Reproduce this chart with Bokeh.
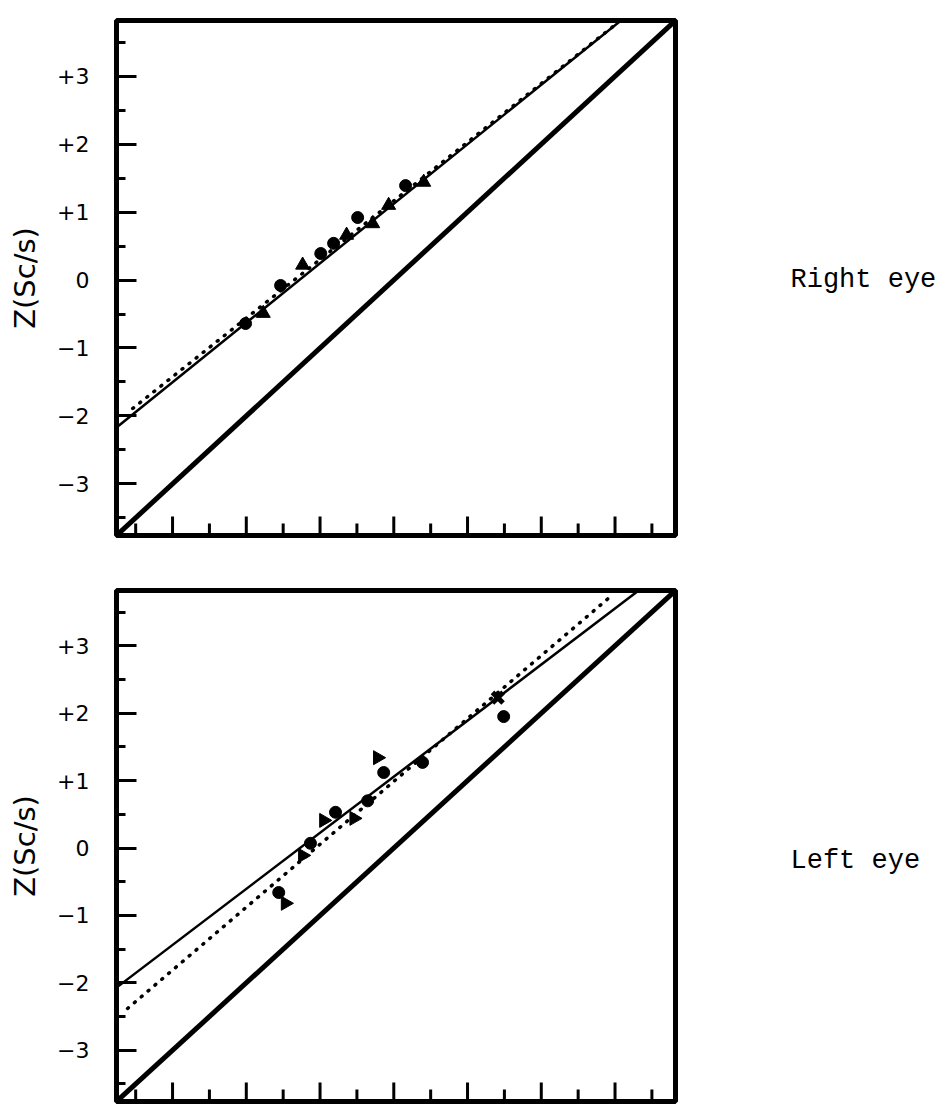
import math
from bokeh.plotting import figure
from bokeh.layouts import column, row
from bokeh.models import FixedTicker, Range1d
from bokeh.embed import file_html
from bokeh.resources import INLINE
from bokeh.core.properties import value

# ---- axes / ticks ----
axis_lo, axis_hi = -3.76, 3.82
y_major = [-3, -2, -1, 0, 1, 2, 3]
y_minor = [-3.5, -2.5, -1.5, -0.5, 0.5, 1.5, 2.5, 3.5]
y_tick_labels = ["\u22123", "\u22122", "\u22121", "0", "+1", "+2", "+3"]
x_major = [-3, -2, -1, 0, 1, 2, 3]
x_minor = [-3.5, -2.5, -1.5, -0.5, 0.5, 1.5, 2.5, 3.5]
y_label = "Z(Sc/s)"
panel_names = ["Right eye", "Left eye"]

# identity line (both panels)
ident_x = [axis_lo, axis_hi]
ident_y = [axis_lo, axis_hi]

# ---- Right eye ----
re_circle_x = [-2.01, -1.535, -0.99, -0.816, -0.49, 0.16]
re_circle_y = [-0.64, -0.08, 0.39, 0.54, 0.92, 1.39]
re_tri_x = [-1.77, -1.236, -0.64, -0.286, -0.07, 0.406]
re_tri_y = [-0.49, 0.22, 0.66, 0.83, 1.10, 1.44]
re_solid_x = [-3.76, 3.08]
re_solid_y = [-2.17, 3.82]
re_dot_x = [-3.54, 3.04]
re_dot_y = [-1.89, 3.79]

# ---- Left eye ----
le_circle_x = [-1.56, -1.13, -0.79, -0.354, -0.137, 0.39, 1.49]
le_circle_y = [-0.66, 0.07, 0.53, 0.70, 1.12, 1.27, 1.95]
le_tri_x = [-1.47, -1.236, -0.95, -0.54, -0.22]
le_tri_y = [-0.82, -0.11, 0.41, 0.44, 1.34]
le_cross_x = [1.41]
le_cross_y = [2.23]
le_solid_x = [-3.76, 3.32]
le_solid_y = [-2.07, 3.82]
le_dot_x = [-3.61, 2.97]
le_dot_y = [-2.38, 3.76]

FONT = "DejaVu Sans"
MONO = "Liberation Mono"


def make_panel(frame_h, top_border, bottom_border, solid_x, solid_y, dot_x, dot_y,
               circ_x, circ_y, tri_x, tri_y, tri_angle):
    p = figure(width=680, height=top_border + frame_h + bottom_border,
               x_range=Range1d(axis_lo, axis_hi), y_range=Range1d(axis_lo, axis_hi),
               output_backend="svg", toolbar_location=None,
               min_border_left=116, min_border_right=5,
               min_border_top=top_border, min_border_bottom=bottom_border)
    p.grid.visible = False
    p.background_fill_color = "white"
    p.border_fill_color = "white"
    p.outline_line_color = "black"
    p.outline_line_width = 5
    p.outline_line_alpha = 1.0

    # y axis
    ya = p.yaxis[0]
    ya.ticker = FixedTicker(ticks=y_major, minor_ticks=y_minor)
    ya.major_label_overrides = {t: l for t, l in zip(y_major, y_tick_labels)}
    ya.axis_line_color = None
    ya.major_tick_in = 20
    ya.major_tick_out = 0
    ya.minor_tick_in = 9
    ya.minor_tick_out = 0
    ya.major_tick_line_width = 3
    ya.minor_tick_line_width = 3
    ya.major_tick_line_color = "black"
    ya.minor_tick_line_color = "black"
    ya.major_label_standoff = 27
    ya.major_label_text_font = FONT
    ya.major_label_text_font_size = "22px"
    ya.major_label_text_color = "black"
    ya.axis_label = y_label
    ya.axis_label_text_font = FONT
    ya.axis_label_text_font_size = "29px"
    ya.axis_label_text_font_style = "normal"
    ya.axis_label_text_color = "black"
    ya.axis_label_standoff = 12

    # x axis: unlabeled, inward ticks drawn on the bottom edge
    p.xaxis.visible = False
    unit_px = frame_h / (axis_hi - axis_lo)
    major_len = 19.0 / unit_px
    minor_len = 12.0 / unit_px
    p.segment(x0=x_major, y0=[axis_lo] * len(x_major), x1=x_major,
              y1=[axis_lo + major_len] * len(x_major),
              line_color="black", line_width=3)
    p.segment(x0=x_minor, y0=[axis_lo] * len(x_minor), x1=x_minor,
              y1=[axis_lo + minor_len] * len(x_minor),
              line_color="black", line_width=3)

    # lines
    p.line(ident_x, ident_y, line_color="black", line_width=5)
    p.line(solid_x, solid_y, line_color="black", line_width=2.5)
    p.line(dot_x, dot_y, line_color="black", line_width=3.5,
           line_dash="1 8", line_cap="round")

    # points
    p.scatter(circ_x, circ_y, marker="circle", size=12,
              fill_color="black", line_color="black")
    p.scatter(tri_x, tri_y, marker="triangle", size=14, angle=tri_angle,
              fill_color="black", line_color="black")
    return p


def make_side(height, text, center_from_top):
    s = figure(width=270, height=height, x_range=Range1d(0, 270),
               y_range=Range1d(0, height), output_backend="svg",
               toolbar_location=None, min_border=0)
    s.axis.visible = False
    s.grid.visible = False
    s.outline_line_color = None
    s.background_fill_color = "white"
    s.border_fill_color = "white"
    s.text(x=[110], y=[height - center_from_top], text=[text],
           text_font=value(MONO), text_font_size="27px",
           text_baseline="middle", text_align="left", text_color="black")
    return s


p1 = make_panel(515, 20, 27, re_solid_x, re_solid_y, re_dot_x, re_dot_y,
                re_circle_x, re_circle_y, re_tri_x, re_tri_y, 0.0)
p2 = make_panel(511, 28, 5, le_solid_x, le_solid_y, le_dot_x, le_dot_y,
                le_circle_x, le_circle_y, le_tri_x, le_tri_y, -math.pi / 2)
p2.scatter(le_cross_x, le_cross_y, marker="x", size=15, line_width=5,
           line_color="black")

s1 = make_side(562, panel_names[0], 283)
s2 = make_side(544, panel_names[1], 288)

layout = column(row(p1, s1, spacing=0), row(p2, s2, spacing=0), spacing=0)
open("out.html", "w").write(file_html(layout, INLINE))
